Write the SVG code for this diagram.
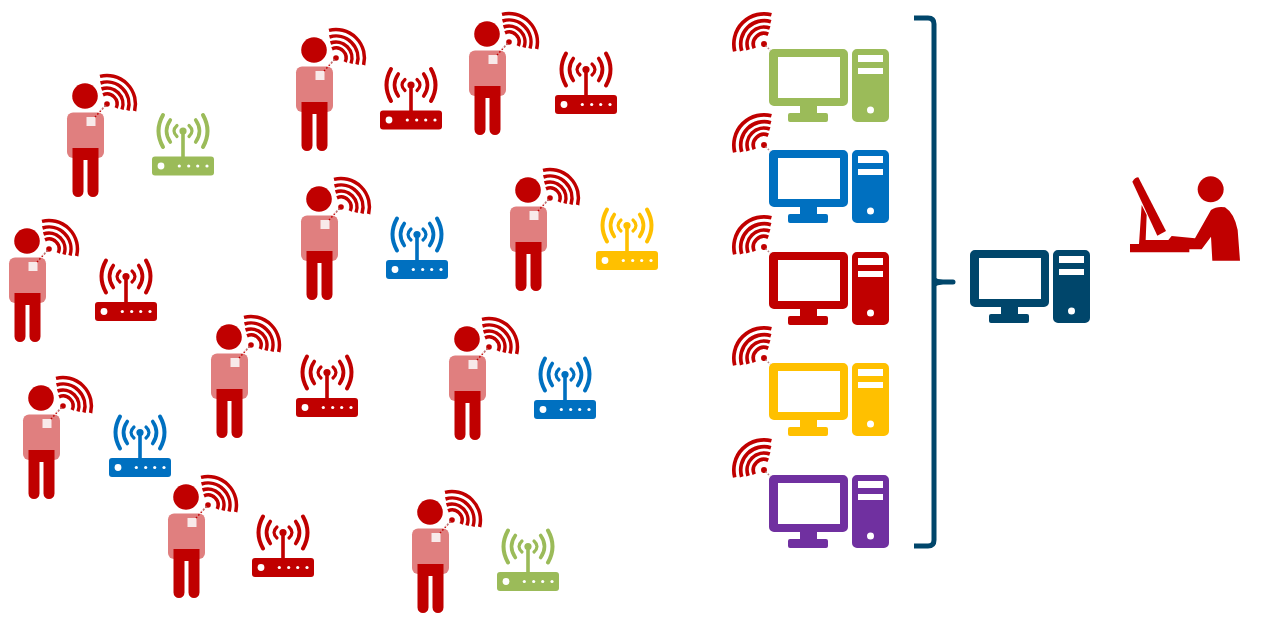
<svg xmlns="http://www.w3.org/2000/svg" width="1272" height="624" viewBox="0 0 1272 624">
<style>
.red{color:#C00000}.green{color:#9BBB59}.blue{color:#0070C0}.yellow{color:#FFC000}.purple{color:#7030A0}.navy{color:#00466B}
.w{fill:none;stroke:#C00000;stroke-width:3.5}
.r{fill:none;stroke:currentColor;stroke-linecap:round}
</style>
<defs>
<g id="waves">
<circle cx="0" cy="0" r="2.8" fill="#C00000"/>
<path class="w" d="M-4-9.200A10 10 0 0 1 9.200 4M-5.500-15A16 16 0 0 1 15 5.500M-6.500-21A22 22 0 0 1 21 6.500M-7-27.600A28.500 28.500 0 0 1 27.600 7"/>
<path d="M-1.500 1.500L-6 6" stroke="#B98A8A" stroke-width="1.500" stroke-dasharray="1.500 1.500" fill="none"/>
</g>
<g id="person">
<rect x="-18" y="16.500" width="37" height="45.500" rx="6" fill="#E07F7F"/>
<path fill="#C00000" d="M-12.500 52H13.500V95.500a5.500 5.500 0 0 1-11 0V64H-1.500V95.500a5.500 5.500 0 0 1-11 0Z"/>
<circle cx="0" cy="0" r="12.800" fill="#C00000"/>
<rect x="1.500" y="21" width="9" height="9" fill="#F8EAEA"/>
<path d="M10 21L21 9" stroke="#C00000" stroke-width="1.500" stroke-dasharray="1.500 2" fill="none"/>
<use href="#waves" x="22" y="8"/>
</g>
<g id="router">
<rect x="-31" y="25.500" width="62" height="19" rx="3" fill="currentColor"/>
<rect x="-1.800" y="0" width="3.600" height="27" fill="currentColor"/>
<circle cx="0" cy="0" r="3.600" fill="currentColor"/>
<path class="r" stroke-width="4" d="M-20-16Q-29 0-20 16M20-16Q29 0 20 16"/>
<path class="r" stroke-width="3.600" d="M-12.700-11Q-20.300 0-12.700 11M12.700-11Q20.300 0 12.700 11"/>
<path class="r" stroke-width="3.200" d="M-6-5.500Q-12 0-6 5.500M6-5.500Q12 0 6 5.500"/>
<circle cx="-22" cy="35" r="3.400" fill="#fff"/>
<g fill="#fff"><circle cx="-3.700" cy="35" r="1.600"/><circle cx="5.700" cy="35" r="1.600"/><circle cx="14.700" cy="35" r="1.600"/><circle cx="24" cy="35" r="1.600"/></g>
</g>
<g id="computer">
<path fill="currentColor" fill-rule="evenodd" d="M5 0H74a5 5 0 0 1 5 5V52a5 5 0 0 1-5 5H5a5 5 0 0 1-5-5V5a5 5 0 0 1 5-5ZM9 8V49H71V8Z"/>
<path fill="currentColor" d="M31 56H48V64H57a2 2 0 0 1 2 2V71a2 2 0 0 1-2 2H21a2 2 0 0 1-2-2V66a2 2 0 0 1 2-2H31Z"/>
<path fill="currentColor" fill-rule="evenodd" d="M88 0H115a5 5 0 0 1 5 5V68a5 5 0 0 1-5 5H88a5 5 0 0 1-5-5V5a5 5 0 0 1 5-5ZM89 6V13H114V6ZM89 19V25H114V19ZM105 61a3.500 3.500 0 1 0-7 0a3.500 3.500 0 1 0 7 0Z"/>
</g>
</defs>
<g id="connectors">
<path id="brace" d="M914 18H928Q934 18 934 24V540Q934 546 928 546H914" fill="none" stroke="#00466B" stroke-width="5" stroke-linecap="butt"/>
<path id="brace-tip" d="M934 277Q938 280 945 279.500H953a2.500 2.500 0 0 1 0 5H945Q938 284 934 287Z" fill="#00466B"/>
</g>
<g id="person1"><use href="#person" x="85" y="96"/></g>
<g id="person2"><use href="#person" x="314" y="50"/></g>
<g id="person3"><use href="#person" x="487" y="34"/></g>
<g id="person4"><use href="#person" x="319" y="199"/></g>
<g id="person5"><use href="#person" x="528" y="190"/></g>
<g id="person6"><use href="#person" x="27" y="241"/></g>
<g id="person7"><use href="#person" x="229" y="337"/></g>
<g id="person8"><use href="#person" x="467" y="339"/></g>
<g id="person9"><use href="#person" x="41" y="398"/></g>
<g id="person10"><use href="#person" x="186" y="497"/></g>
<g id="person11"><use href="#person" x="430" y="512"/></g>
<g id="router1" class="green"><use href="#router" x="183" y="131"/></g>
<g id="router2" class="red"><use href="#router" x="411" y="85"/></g>
<g id="router3" class="red"><use href="#router" x="586" y="69.500"/></g>
<g id="router4" class="blue"><use href="#router" x="417" y="234.500"/></g>
<g id="router5" class="yellow"><use href="#router" x="627" y="225.500"/></g>
<g id="router6" class="red"><use href="#router" x="126" y="276.500"/></g>
<g id="router7" class="red"><use href="#router" x="327" y="372.500"/></g>
<g id="router8" class="blue"><use href="#router" x="565" y="374.500"/></g>
<g id="router9" class="blue"><use href="#router" x="140" y="432.500"/></g>
<g id="router10" class="red"><use href="#router" x="283" y="532.500"/></g>
<g id="router11" class="green"><use href="#router" x="528" y="546.500"/></g>
<g id="pc1" class="green"><use href="#computer" x="769" y="49"/><use href="#waves" transform="translate(764 44) scale(-1.060 1.060)"/></g>
<g id="pc2" class="blue"><use href="#computer" x="769" y="150"/><use href="#waves" transform="translate(764 145) scale(-1.060 1.060)"/></g>
<g id="pc3" class="red"><use href="#computer" x="769" y="252"/><use href="#waves" transform="translate(764 247) scale(-1.060 1.060)"/></g>
<g id="pc4" class="yellow"><use href="#computer" x="769" y="363"/><use href="#waves" transform="translate(764 358) scale(-1.060 1.060)"/></g>
<g id="pc5" class="purple"><use href="#computer" x="769" y="475"/><use href="#waves" transform="translate(764 470) scale(-1.060 1.060)"/></g>
<g id="server" class="navy"><use href="#computer" x="970" y="250"/></g>
<g id="operator" transform="translate(1125 170) scale(.33333)" fill="#C00000">
<circle cx="257" cy="58" r="39"/>
<path d="M22 35Q30 22 40 22L123 183L97 197Z"/>
<path d="M15 222H42L50 105L65 135L62 210H130L140 198L210 205L258 120Q275 108 300 112Q328 130 338 180L345 272H262L258 200L230 238H193V247H15Z"/>
</g>
</svg>
